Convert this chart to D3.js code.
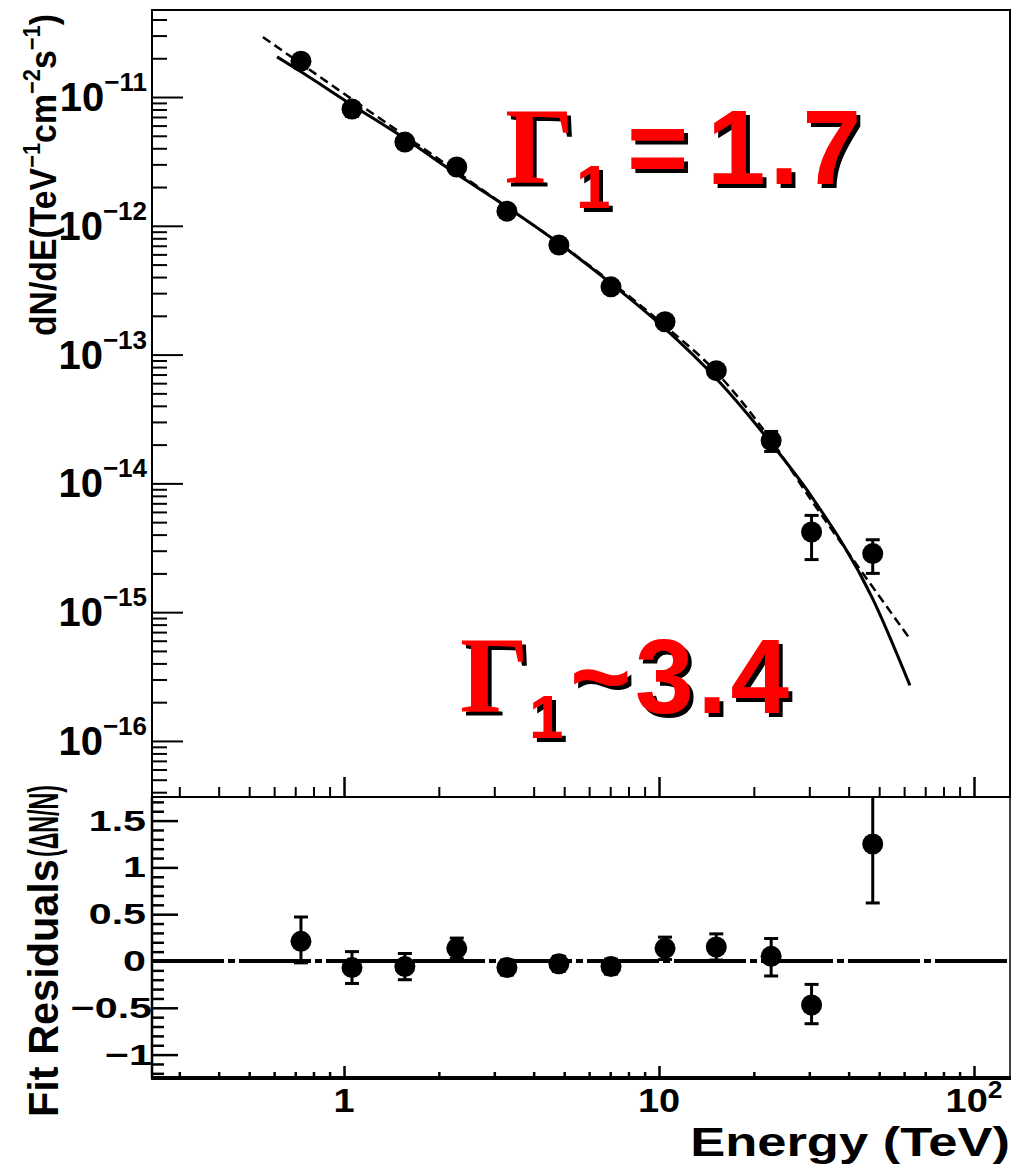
<!DOCTYPE html>
<html><head><meta charset="utf-8">
<script src="https://cdn.jsdelivr.net/npm/d3@7"></script>
<style>
  body { margin: 0; background: #fff; }
  svg { display: block; }
  text { font-family: "Liberation Sans", Arial, Helvetica, sans-serif; }
</style>
</head><body>
<svg id="chart" width="1013" height="1167"></svg>
<script>
// Measured differential spectrum (TeV, TeV^-1 cm^-2 s^-1)
const energy      = [0.73, 1.06, 1.56, 2.28, 3.29, 4.81, 7.04, 10.45, 15.2, 22.7, 30.5, 47.7];
const flux        = [1.90e-11, 8.07e-12, 4.47e-12, 2.86e-12, 1.30e-12, 7.1e-13, 3.36e-13, 1.80e-13, 7.5e-14, 2.15e-14, 4.19e-15, 2.85e-15];
const fluxErrUp   = [2.3e-12, 1.0e-12, 5e-13, 3e-13, 1.2e-13, 6e-14, 3e-14, 1.8e-14, 8e-15, 3.8e-15, 1.45e-15, 8.0e-16];
const fluxErrDown = [2.3e-12, 1.0e-12, 5e-13, 3e-13, 1.2e-13, 6e-14, 3e-14, 1.8e-14, 8e-15, 3.8e-15, 1.63e-15, 8.5e-16];

// Fractional fit residuals (data - fit) / fit
const residual     = [0.21, -0.07, -0.06, 0.135, -0.07, -0.03, -0.06, 0.135, 0.15, 0.05, -0.47, 1.25];
const residErrUp   = [0.26, 0.17, 0.14, 0.11, 0.08, 0.08, 0.08, 0.12, 0.14, 0.19, 0.22, 0.60];
const residErrDown = [0.23, 0.17, 0.14, 0.11, 0.08, 0.08, 0.08, 0.12, 0.14, 0.21, 0.20, 0.63];

// Curved spectral fit (solid line)
const curvedFitE    = [0.613, 0.73, 1.06, 1.56, 2.28, 3.29, 4.81, 7.04, 10.45, 15.2, 22.7, 30.5, 47.7, 62.6];
const curvedFitFlux = [2.05e-11, 1.57e-11, 8.68e-12, 4.76e-12, 2.52e-12, 1.40e-12, 7.32e-13, 3.57e-13, 1.59e-13, 6.52e-14, 2.05e-14, 7.9e-15, 1.27e-15, 2.7e-16];

// Broken power-law fit (dashed line)
const brokenFitE    = [0.553, 0.993, 1.875, 3.29, 4.81, 7.04, 10.45, 15.17, 22.68, 30.4, 37.5, 45.7, 52.9, 62.6];
const brokenFitFlux = [2.92e-11, 1.074e-11, 3.67e-12, 1.40e-12, 7.35e-13, 3.66e-13, 1.67e-13, 7.33e-14, 2.17e-14, 7.43e-15, 3.57e-15, 1.81e-15, 1.10e-15, 6.19e-16];

// Axis ticks and labels
const fluxDecades   = [1e-16, 1e-15, 1e-14, 1e-13, 1e-12, 1e-11];
const fluxExponents = ["\u221216", "\u221215", "\u221214", "\u221213", "\u221212", "\u221211"];
const residTicks    = [-1, -0.5, 0, 0.5, 1, 1.5];
const residLabels   = ["\u22121", "\u22120.5", "0", "0.5", "1", "1.5"];
const energyDecades = [1, 10, 100];
const energyLabels  = [["1", ""], ["10", ""], ["10", "2"]];

const svg = d3.select("#chart");
const L = 152, R = 1010, T = 10, M = 797, B = 1078;

const x  = d3.scaleLog().domain([0.2457, 130.1]).range([L, R]);
const yF = d3.scaleLog().domain([3.67e-17, 4.74e-11]).range([M, T]);
const yR = d3.scaleLinear().domain([-1.25, 1.752]).range([B, M]);

const defs = svg.append("defs");
defs.append("clipPath").attr("id", "clipTop").append("rect")
  .attr("x", L).attr("y", T).attr("width", R - L).attr("height", M - T);
defs.append("clipPath").attr("id", "clipRes").append("rect")
  .attr("x", L).attr("y", M).attr("width", R - L).attr("height", B - M);
// hard black drop shadow for the red annotations
const sh = defs.append("filter").attr("id", "hardShadow")
  .attr("x", "-10%").attr("y", "-10%").attr("width", "130%").attr("height", "130%");
sh.append("feFlood").attr("flood-color", "#000").attr("result", "ink");
sh.append("feComposite").attr("in", "ink").attr("in2", "SourceAlpha").attr("operator", "in").attr("result", "mask");
sh.append("feOffset").attr("in", "mask").attr("dx", 4).attr("dy", 4).attr("result", "off");
const mg = sh.append("feMerge");
mg.append("feMergeNode").attr("in", "off");
mg.append("feMergeNode").attr("in", "SourceGraphic");

// ---------- axes: spectrum panel ----------
const minorFlux = yF.ticks().filter(v => !fluxDecades.some(d => Math.abs(v / d - 1) < 1e-6));
const minorE = x.ticks().filter(v => !energyDecades.some(d => Math.abs(v / d - 1) < 1e-6));

function styleAxis(g, w) {
  g.select(".domain").remove();
  g.selectAll(".tick line").attr("stroke", "#000").attr("stroke-width", w);
  g.selectAll(".tick text").remove();
}

svg.append("g").attr("transform", `translate(${L},0)`)
  .call(d3.axisLeft(yF).tickValues(fluxDecades).tickSize(-31)).call(g => styleAxis(g, 2));
svg.append("g").attr("transform", `translate(${L},0)`)
  .call(d3.axisLeft(yF).tickValues(minorFlux).tickSize(-15)).call(g => styleAxis(g, 2));
svg.append("g").attr("transform", `translate(0,${M})`)
  .call(d3.axisBottom(x).tickValues(energyDecades).tickSize(-20)).call(g => styleAxis(g, 2.5));
svg.append("g").attr("transform", `translate(0,${M})`)
  .call(d3.axisBottom(x).tickValues(minorE).tickSize(-10)).call(g => styleAxis(g, 2));

// ---------- axes: residual panel ----------
const minorRes = d3.range(-12, 18).map(v => v / 10).filter(v => !residTicks.some(t => Math.abs(t - v) < 1e-6));
svg.append("g").attr("transform", `translate(${L},0)`)
  .call(d3.axisLeft(yR).tickValues(residTicks).tickSize(-26)).call(g => styleAxis(g, 2.5));
svg.append("g").attr("transform", `translate(${L},0)`)
  .call(d3.axisLeft(yR).tickValues(minorRes).tickSize(-12)).call(g => styleAxis(g, 2.5));
svg.append("g").attr("transform", `translate(0,${B})`)
  .call(d3.axisBottom(x).tickValues(energyDecades).tickSize(-12)).call(g => styleAxis(g, 2.5));
svg.append("g").attr("transform", `translate(0,${B})`)
  .call(d3.axisBottom(x).tickValues(minorE).tickSize(-6)).call(g => styleAxis(g, 2.5));

// ---------- frames ----------
const frame = svg.append("g").attr("fill", "none").attr("stroke", "#000");
frame.append("rect").attr("x", L).attr("y", T).attr("width", R - L).attr("height", M - T).attr("stroke-width", 2);
frame.append("line").attr("x1", L).attr("x2", L).attr("y1", M).attr("y2", B).attr("stroke-width", 2.5);
frame.append("line").attr("x1", R).attr("x2", R).attr("y1", M).attr("y2", B).attr("stroke-width", 1.5);
frame.append("line").attr("x1", L - 1).attr("x2", R + 1).attr("y1", B).attr("y2", B).attr("stroke-width", 4);

// ---------- tick labels ----------
const fluxLab = svg.append("g").selectAll("text").data(fluxDecades).join("text")
  .attr("x", L - 5).attr("y", d => yF(d) + 14).attr("text-anchor", "end")
  .attr("font-weight", "bold").attr("fill", "#000");
fluxLab.append("tspan").attr("font-size", 40).text("10");
fluxLab.append("tspan").attr("font-size", 26).attr("dy", -20).text((d, i) => fluxExponents[i]);

// residual-panel text is drawn horizontally widened
svg.append("g").selectAll("text").data(residTicks).join("text")
  .attr("transform", d => `translate(${d < 0 ? L : L - 6},${yR(d) + 10}) scale(1.42,1)`)
  .attr("text-anchor", "end").attr("font-weight", "bold").attr("font-size", 29)
  .text((d, i) => residLabels[i]);

const eLab = svg.append("g").selectAll("text").data(energyDecades).join("text")
  .attr("transform", d => `translate(${x(d)},1112) scale(1.15,1)`).attr("text-anchor", "middle")
  .attr("font-weight", "bold");
eLab.append("tspan").attr("font-size", 33).text((d, i) => energyLabels[i][0]);
eLab.append("tspan").attr("font-size", 23).attr("dy", -14).text((d, i) => energyLabels[i][1]);

// ---------- axis titles ----------
function fitLength(textSel, target) {
  const w = textSel.node().getBBox().width;
  textSel.attr("transform", `scale(${target / w},1)`);
}

const yTitle = svg.append("g").attr("transform", "translate(56,336) rotate(-90)")
  .append("text").attr("font-weight", "bold").attr("font-size", 37).attr("fill", "#000");
yTitle.append("tspan").text("dN/dE(TeV");
yTitle.append("tspan").attr("font-size", 24).attr("dy", -16).text("\u22121");
yTitle.append("tspan").attr("dy", 16).text("cm");
yTitle.append("tspan").attr("font-size", 24).attr("dy", -16).text("\u22122");
yTitle.append("tspan").attr("dy", 16).text("s");
yTitle.append("tspan").attr("font-size", 24).attr("dy", -16).text("\u22121");
yTitle.append("tspan").attr("dy", 16).text(")");
fitLength(yTitle, 322);

const rTitleA = svg.append("g").attr("transform", "translate(58,1117) rotate(-90)")
  .append("text").attr("font-weight", "bold").attr("font-size", 43).attr("fill", "#000")
  .text("Fit Residuals");
fitLength(rTitleA, 258);
const rTitleB = svg.append("g").attr("transform", "translate(58,857) rotate(-90)")
  .append("text").attr("font-weight", "bold").attr("font-size", 43).attr("fill", "#000")
  .text("(\u0394N/N)");
fitLength(rTitleB, 72);

const xTitle = svg.append("g").attr("transform", "translate(1010,1156)")
  .append("text").attr("text-anchor", "end")
  .attr("font-weight", "bold").attr("font-size", 40).text("Energy (TeV)");
fitLength(xTitle, 320);

// ---------- fit curves ----------
const line = d3.line().x(d => x(d[0])).y(d => yF(d[1])).curve(d3.curveMonotoneX);
const curves = svg.append("g").attr("clip-path", "url(#clipTop)").attr("fill", "none").attr("stroke", "#000");
curves.append("path").datum(d3.zip(brokenFitE, brokenFitFlux)).attr("d", line)
  .attr("stroke-width", 2.5).attr("stroke-dasharray", "9,5");
curves.append("path").datum(d3.zip(curvedFitE, curvedFitFlux)).attr("d", line)
  .attr("stroke-width", 3);

// ---------- data points ----------
const pts = energy.map((e, i) => ({ e, f: flux[i], up: flux[i] + fluxErrUp[i], lo: flux[i] - fluxErrDown[i],
  r: residual[i], rUp: residual[i] + residErrUp[i], rLo: residual[i] - residErrDown[i] }));

function drawPoints(g, yOf) {
  const p = g.selectAll("g").data(pts).join("g");
  p.append("line").attr("x1", d => x(d.e)).attr("x2", d => x(d.e))
    .attr("y1", d => yOf(d, "up")).attr("y2", d => yOf(d, "lo"))
    .attr("stroke", "#000").attr("stroke-width", 3);
  ["up", "lo"].forEach(k => p.append("line")
    .attr("x1", d => x(d.e) - 7).attr("x2", d => x(d.e) + 7)
    .attr("y1", d => yOf(d, k)).attr("y2", d => yOf(d, k))
    .attr("stroke", "#000").attr("stroke-width", 3));
  p.append("circle").attr("cx", d => x(d.e)).attr("cy", d => yOf(d, "c")).attr("r", 10.5).attr("fill", "#000");
}

drawPoints(svg.append("g").attr("clip-path", "url(#clipTop)"),
  (d, k) => yF(k === "up" ? d.up : k === "lo" ? d.lo : d.f));

// ---------- residual panel ----------
const res = svg.append("g").attr("clip-path", "url(#clipRes)");
res.append("line").attr("x1", x.range()[0]).attr("x2", x.range()[1])
  .attr("y1", yR(0)).attr("y2", yR(0))
  .attr("stroke", "#000").attr("stroke-width", 4).attr("stroke-dasharray", "72,4,7,4");
drawPoints(res, (d, k) => yR(k === "up" ? d.rUp : k === "lo" ? d.rLo : d.r));

// ---------- spectral index annotations ----------
function indexLabel(g, gx, gy, subX, subY, opX, op, valX, val) {
  const t = g.append("g").attr("fill", "#ff0000").attr("filter", "url(#hardShadow)");
  t.append("text").attr("x", gx).attr("y", gy)
    .style("font-family", "'Liberation Serif', 'Times New Roman', serif")
    .attr("font-weight", "bold").attr("font-size", 108).text("\u0393");
  t.append("text").attr("x", subX).attr("y", subY).attr("font-weight", "bold").attr("font-size", 62).text("1");
  t.append("text").attr("x", opX).attr("y", gy + 2).attr("font-weight", "bold").attr("font-size", 105).text(op);
  t.append("text").attr("x", valX).attr("y", gy + 2).attr("font-weight", "bold").attr("font-size", 105)
    .attr("letter-spacing", 4).text(val);
}
const ann = svg.append("g");
indexLabel(ann, 505, 182, 576, 208, 627, "=", 707, "1.7");
indexLabel(ann, 460, 711, 529, 738, 570, "~", 635, "3.4");
</script>
</body></html>
